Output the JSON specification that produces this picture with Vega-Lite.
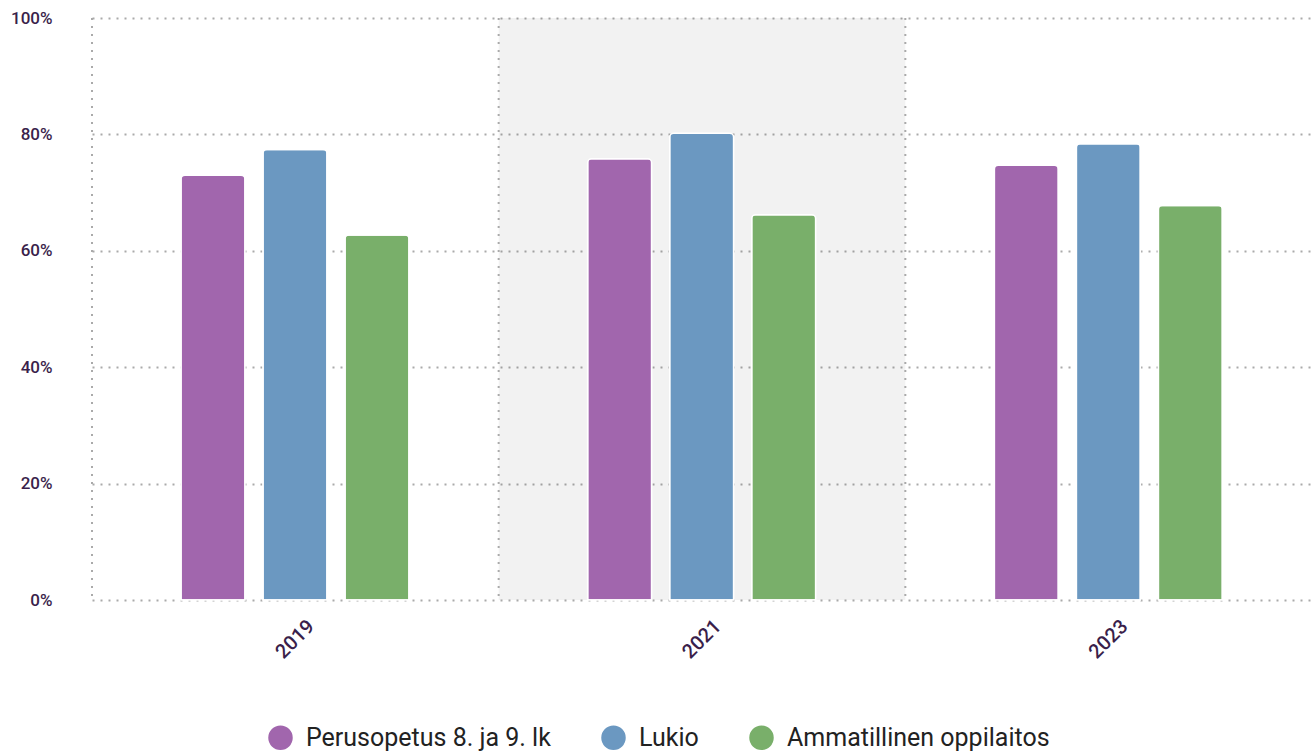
{
  "$schema": "https://vega.github.io/schema/vega-lite/v6.json",
  "width": 1220,
  "height": 582,
  "autosize": {"type": "none"},
  "padding": {"left": 92, "top": 18, "right": 0, "bottom": 154},
  "config": {
    "view": {"stroke": null},
    "font": "Roboto"
  },
  "datasets": {
    "bars": [
      {"year": "2019", "level": "Perusopetus 8. ja 9. lk", "value": 73.0},
      {"year": "2019", "level": "Lukio", "value": 77.4},
      {"year": "2019", "level": "Ammatillinen oppilaitos", "value": 62.7},
      {"year": "2021", "level": "Perusopetus 8. ja 9. lk", "value": 75.8},
      {"year": "2021", "level": "Lukio", "value": 80.2},
      {"year": "2021", "level": "Ammatillinen oppilaitos", "value": 66.2},
      {"year": "2023", "level": "Perusopetus 8. ja 9. lk", "value": 74.7},
      {"year": "2023", "level": "Lukio", "value": 78.4},
      {"year": "2023", "level": "Ammatillinen oppilaitos", "value": 67.8}
    ],
    "years": [{"year": "2019"}, {"year": "2021"}, {"year": "2023"}],
    "shade": [{"year": "2021"}]
  },
  "encoding": {
    "x": {
      "field": "year",
      "type": "nominal",
      "scale": {"domain": ["2019", "2021", "2023"], "paddingInner": 0, "paddingOuter": 0},
      "axis": {
        "title": null,
        "domain": false,
        "ticks": false,
        "grid": false,
        "labelAngle": -45,
        "labelAlign": "center",
        "labelBaseline": "middle",
        "labelPadding": 39,
        "labelFontSize": 20,
        "labelFontWeight": 500,
        "labelColor": "#3a1f4b"
      }
    }
  },
  "layer": [
    {
      "data": {"name": "shade"},
      "mark": {"type": "rect", "color": "black", "opacity": 0.052},
      "encoding": {
        "y": {"datum": 100, "type": "quantitative"},
        "y2": {"datum": 0}
      }
    },
    {
      "data": {"name": "years"},
      "mark": {"type": "rule", "color": "#aaaaaa", "strokeWidth": 2, "strokeDash": [2, 6]},
      "encoding": {
        "x": {"field": "year", "type": "nominal", "bandPosition": 0},
        "y": {"datum": 100, "type": "quantitative"},
        "y2": {"datum": 0}
      }
    },
    {
      "data": {"name": "bars"},
      "mark": {
        "type": "bar",
        "stroke": "white",
        "strokeWidth": 1.5,
        "cornerRadiusTopLeft": 4,
        "cornerRadiusTopRight": 4
      },
      "encoding": {
        "xOffset": {
          "field": "level",
          "type": "nominal",
          "sort": ["Perusopetus 8. ja 9. lk", "Lukio", "Ammatillinen oppilaitos"],
          "scale": {"range": [89, 317], "paddingInner": 0.22, "paddingOuter": 0}
        },
        "y": {
          "field": "value",
          "type": "quantitative",
          "scale": {"domain": [0, 100], "nice": false},
          "axis": {
            "title": null,
            "domain": false,
            "ticks": false,
            "grid": true,
            "values": [0, 20, 40, 60, 80, 100],
            "labelExpr": "datum.value + '%'",
            "labelPadding": 40,
            "labelFontSize": 17,
            "labelFontWeight": 500,
            "labelColor": "#3a1f4b",
            "gridColor": "#aaaaaa",
            "gridWidth": 2,
            "gridDash": [2, 6]
          }
        },
        "color": {
          "field": "level",
          "type": "nominal",
          "sort": ["Perusopetus 8. ja 9. lk", "Lukio", "Ammatillinen oppilaitos"],
          "scale": {
            "domain": ["Perusopetus 8. ja 9. lk", "Lukio", "Ammatillinen oppilaitos"],
            "range": ["#a166ad", "#6b98c1", "#79af6a"]
          },
          "legend": {
            "title": null,
            "orient": "none",
            "direction": "horizontal",
            "legendX": 176,
            "legendY": 707,
            "symbolType": "circle",
            "symbolSize": 600,
            "symbolStrokeWidth": 0,
            "labelFontSize": 25,
            "labelLimit": 400,
            "labelColor": "#222222",
            "labelOffset": 13,
            "columnPadding": 50
          }
        }
      }
    }
  ]
}
